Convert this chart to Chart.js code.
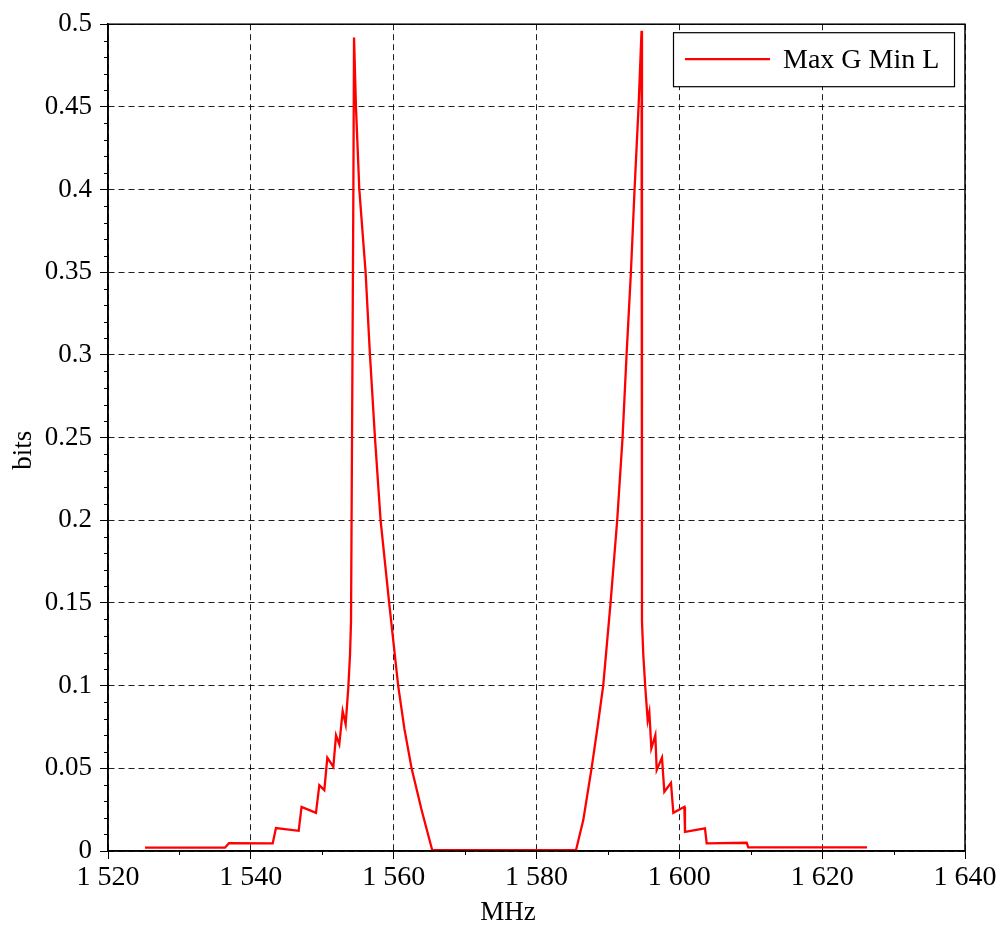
<!DOCTYPE html>
<html><head><meta charset="utf-8">
<script src="https://cdn.jsdelivr.net/npm/chart.js@4.4.0/dist/chart.umd.min.js"></script>
<style>html,body{margin:0;padding:0;background:#fff;}</style>
</head><body>
<canvas id="c" width="999" height="936"></canvas>
<script>
const seriesLabel = 'Max G Min L';
const xTitle = 'MHz';
const yTitle = 'bits';
const freqMHz = [
  1525.18, 1536.38, 1536.94, 1543.06, 1543.52, 1546.70, 1547.10, 1549.12, 1549.59, 1550.29,
  1550.71, 1551.55, 1551.93, 1552.39, 1552.86, 1553.28, 1553.65, 1553.89, 1554.03, 1554.35,
  1554.45, 1554.72, 1555.19, 1556.07, 1556.68, 1557.38, 1558.17, 1559.37, 1560.63, 1561.50,
  1562.51, 1563.92, 1565.40, 1585.53, 1586.55, 1587.71, 1588.55, 1589.34, 1590.37, 1591.30,
  1592.05, 1592.61, 1593.22, 1593.73, 1594.29, 1594.71, 1594.77, 1594.95, 1595.23, 1595.57,
  1595.80, 1596.08, 1596.64, 1596.83, 1597.57, 1597.90, 1598.83, 1599.16, 1600.70, 1600.79,
  1603.59, 1603.83, 1609.43, 1609.65, 1626.28
];
const bitsVal = [
  0.0020, 0.0020, 0.0047, 0.0046, 0.0139, 0.0122, 0.0267, 0.0231, 0.0398, 0.0368,
  0.0565, 0.0509, 0.0700, 0.0645, 0.0846, 0.0766, 0.0990, 0.1190, 0.1390, 0.3930,
  0.4920, 0.4500, 0.4000, 0.3500, 0.3000, 0.2500, 0.2000, 0.1500, 0.1000, 0.0740,
  0.0500, 0.0247, 0.0005, 0.0005, 0.0187, 0.0500, 0.0750, 0.1000, 0.1500, 0.2000,
  0.2500, 0.3000, 0.3500, 0.4000, 0.4500, 0.4960, 0.1390, 0.1190, 0.0990, 0.0790,
  0.0840, 0.0620, 0.0700, 0.0489, 0.0565, 0.0358, 0.0412, 0.0231, 0.0267, 0.0116,
  0.0137, 0.0046, 0.0050, 0.0022, 0.0022
];
const xTickValues = [1520, 1540, 1560, 1580, 1600, 1620, 1640];
const xTickLabels = ['1 520', '1 540', '1 560', '1 580', '1 600', '1 620', '1 640'];
const yTickValues = [0, 0.05, 0.1, 0.15, 0.2, 0.25, 0.3, 0.35, 0.4, 0.45, 0.5];
const yTickLabels = ['0', '0.05', '0.1', '0.15', '0.2', '0.25', '0.3', '0.35', '0.4', '0.45', '0.5'];

const FONT = '"Liberation Serif", "Times New Roman", serif';
const points = freqMHz.map((f, i) => ({x: f, y: bitsVal[i]}));

const framePlugin = {
  id: 'frame',
  afterDraw(chart) {
    const {ctx, chartArea: a, scales: {x, y}} = chart;
    ctx.save();
    ctx.strokeStyle = '#000';
    ctx.lineWidth = 1.5;
    ctx.strokeRect(a.left, a.top, a.right - a.left, a.bottom - a.top);
    // minor ticks
    ctx.lineWidth = 1;
    ctx.beginPath();
    for (let k = 1; k < 50; k++) {
      if (k % 5 === 0) continue;
      const py = Math.round(y.getPixelForValue(k / 100)) + 0.5;
      ctx.moveTo(a.left - 4, py); ctx.lineTo(a.left, py);
    }
    for (let v = 1530; v < 1640; v += 20) {
      const px = Math.round(x.getPixelForValue(v)) + 0.5;
      ctx.moveTo(px, a.bottom); ctx.lineTo(px, a.bottom + 4);
    }
    ctx.stroke();
    // axis titles
    ctx.fillStyle = '#000';
    ctx.font = '27px ' + FONT;
    ctx.textAlign = 'center';
    ctx.textBaseline = 'middle';
    ctx.fillText(xTitle, a.left + 400, a.bottom + 62);
    ctx.save();
    ctx.translate(24, a.top + 426);
    ctx.rotate(-Math.PI / 2);
    ctx.fillText(yTitle, 0, 0);
    ctx.restore();
    // legend
    const ds = chart.data.datasets[0];
    const bx = a.right - 292, by = a.top + 8, bw = 281, bh = 54;
    ctx.fillStyle = '#fff';
    ctx.fillRect(bx, by, bw, bh);
    ctx.strokeStyle = '#000';
    ctx.lineWidth = 1.2;
    ctx.strokeRect(bx + 0.5, by + 0.5, bw, bh);
    ctx.strokeStyle = ds.borderColor;
    ctx.lineWidth = 2.2;
    ctx.beginPath();
    ctx.moveTo(bx + 12, by + 27); ctx.lineTo(bx + 97, by + 27);
    ctx.stroke();
    ctx.fillStyle = '#000';
    ctx.font = '28px ' + FONT;
    ctx.textAlign = 'left';
    ctx.textBaseline = 'middle';
    ctx.fillText(ds.label, bx + 110, by + 28);
    ctx.restore();
  }
};

new Chart(document.getElementById('c'), {
  type: 'scatter',
  data: {
    datasets: [{
      label: seriesLabel,
      data: points,
      showLine: true,
      borderColor: '#ff0000',
      borderWidth: 2.3,
      pointRadius: 0,
      tension: 0,
      fill: false
    }]
  },
  options: {
    responsive: false,
    animation: false,
    devicePixelRatio: 1,
    layout: {padding: {left: 0, right: 34, top: 22, bottom: 0}},
    plugins: {legend: {display: false}, tooltip: {enabled: false}},
    scales: {
      x: {
        type: 'linear', min: 1520, max: 1640,
        afterBuildTicks(s) { s.ticks = xTickValues.map(v => ({value: v})); },
        afterFit(s) { s.height = 85; },
        ticks: {
          color: '#000', font: {family: FONT, size: 28}, padding: 2, maxRotation: 0,
          callback(v) { const i = xTickValues.indexOf(v); return i >= 0 ? xTickLabels[i] : ''; }
        },
        grid: {color: 'rgba(0,0,0,0.88)', lineWidth: 1, drawTicks: true, tickLength: 8,
               tickColor: '#000', tickWidth: 1, tickBorderDash: []},
        border: {display: true, color: '#000', width: 1.5, dash: [6, 4]},
        title: {display: false}
      },
      y: {
        type: 'linear', min: 0, max: 0.5,
        afterBuildTicks(s) { s.ticks = yTickValues.map(v => ({value: v})); },
        afterFit(s) { s.width = 108; },
        ticks: {
          color: '#000', font: {family: FONT, size: 27}, padding: 8,
          callback(v) { const i = yTickValues.findIndex(t => Math.abs(t - v) < 1e-9); return i >= 0 ? yTickLabels[i] : ''; }
        },
        grid: {color: 'rgba(0,0,0,0.88)', lineWidth: 1, drawTicks: true, tickLength: 8,
               tickColor: '#000', tickWidth: 1, tickBorderDash: []},
        border: {display: true, color: '#000', width: 1.5, dash: [6, 4]},
        title: {display: false}
      }
    }
  },
  plugins: [framePlugin]
});
</script>
</body></html>
